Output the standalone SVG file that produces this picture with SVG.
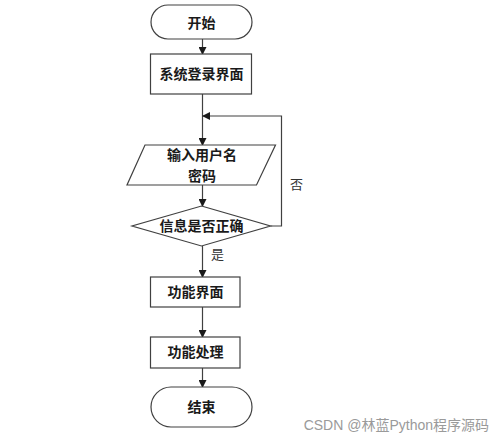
<svg xmlns="http://www.w3.org/2000/svg" width="499" height="437" viewBox="0 0 499 437">
<style>
.s{fill:#fff;stroke:#404040;stroke-width:1.2}
.t{font-family:"Noto Sans CJK SC","Noto Sans",sans-serif;font-size:14px;font-weight:bold;fill:#1a1a1a;text-anchor:middle}
.l{font-family:"Noto Sans CJK SC","Noto Sans",sans-serif;font-size:13px;fill:#333}
.c{fill:none;stroke:#404040;stroke-width:1.2}
</style>
<defs>
<marker id="a" markerWidth="8" markerHeight="8" refX="7" refY="4" orient="auto" markerUnits="userSpaceOnUse">
<path d="M0,0 L8,4 L0,8 Z" fill="#1a1a1a"/>
</marker>
</defs>
<rect width="499" height="437" fill="#fff"/>
<g id="connectors">
<line class="c" x1="202.5" y1="39" x2="202.5" y2="54" marker-end="url(#a)"/>
<line class="c" x1="202.5" y1="94" x2="202.5" y2="145" marker-end="url(#a)"/>
<line class="c" x1="202.5" y1="185" x2="202.5" y2="206" marker-end="url(#a)"/>
<polyline class="c" points="270.5,226 281.5,226 281.5,116 203,116" marker-end="url(#a)"/>
<line class="c" x1="202.5" y1="246" x2="202.5" y2="277" marker-end="url(#a)"/>
<line class="c" x1="202.5" y1="307" x2="202.5" y2="337" marker-end="url(#a)"/>
<line class="c" x1="202.5" y1="368" x2="202.5" y2="387" marker-end="url(#a)"/>
<text class="l" x="290" y="189">否</text>
<text class="l" x="211" y="259">是</text>
</g>
<g id="start">
<rect class="s" x="151" y="5" width="101" height="34" rx="17"/>
<text class="t" x="201.5" y="28">开始</text>
</g>
<g id="login">
<rect class="s" x="150.5" y="54" width="101" height="40"/>
<text class="t" x="201.5" y="79">系统登录界面</text>
</g>
<g id="input">
<polygon class="s" points="145,145 275.5,145 256.5,185 127,185"/>
<text class="t" x="202" y="160">输入用户名</text>
<text class="t" x="202" y="180.5">密码</text>
</g>
<g id="check">
<polygon class="s" points="201.5,206 270.5,226 201.5,246 132,226"/>
<text class="t" x="201.5" y="231">信息是否正确</text>
</g>
<g id="func">
<rect class="s" x="150.5" y="277" width="89.5" height="30"/>
<text class="t" x="195.5" y="297">功能界面</text>
</g>
<g id="proc">
<rect class="s" x="150.5" y="337" width="89.5" height="31"/>
<text class="t" x="195.5" y="357">功能处理</text>
</g>
<g id="end">
<rect class="s" x="151" y="387" width="101" height="40" rx="20"/>
<text class="t" x="201.5" y="412">结束</text>
</g>
<text x="489" y="430" style="font-family:'Liberation Sans','Noto Sans CJK SC',sans-serif;font-size:14px;fill:#9a9a9a;text-anchor:end">CSDN @林蓝Python程序源码</text>
</svg>
